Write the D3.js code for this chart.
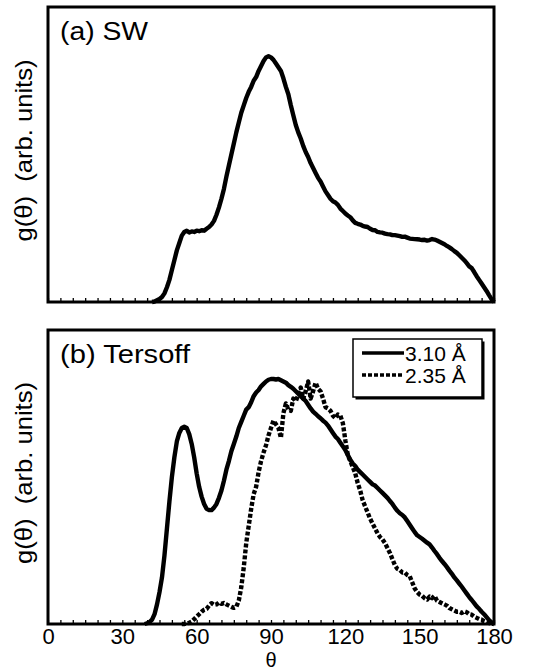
<!DOCTYPE html>
<html>
<head>
<meta charset="utf-8">
<script src="https://cdn.jsdelivr.net/npm/d3@7"></script>
<style>
  html, body { margin: 0; padding: 0; background: #fff; }
  svg { display: block; font-family: "Liberation Sans", Arial, Helvetica, sans-serif; }
  text { white-space: pre; }
</style>
</head>
<body>
<svg id="chart" width="546" height="670"></svg>
<script>
// Bond-angle distribution g(theta), [theta (deg), g (arb. units)]
const swData = [
  [42,0],[43,0.002],[44,0.007],[45,0.012],[46,0.02],[47,0.035],[48,0.06],[49,0.09],[50,0.13],
  [51,0.17],[52,0.21],[53,0.24],[54,0.27],[55,0.285],[56,0.29],[57,0.283],[58,0.287],[59,0.285],
  [60,0.29],[61,0.288],[62,0.292],[63,0.29],[64,0.298],[65,0.305],[66,0.315],[67,0.33],[68,0.355],
  [69,0.385],[70,0.42],[71,0.46],[72,0.51],[73,0.555],[74,0.6],[75,0.645],[76,0.69],[77,0.73],
  [78,0.77],[79,0.8],[80,0.83],[81,0.855],[82,0.875],[83,0.9],[84,0.915],[85,0.94],[86,0.96],
  [87,0.98],[88,0.995],[89,1.0],[90,0.995],[91,0.985],[92,0.97],[93,0.955],[94,0.94],[95,0.91],
  [96,0.875],[97,0.845],[98,0.8],[99,0.76],[100,0.72],[101,0.69],[102,0.665],[103,0.635],[104,0.61],
  [105,0.59],[106,0.565],[107,0.545],[108,0.525],[109,0.505],[110,0.49],[111,0.47],[112,0.45],
  [113,0.435],[114,0.42],[115,0.41],[116,0.405],[117,0.395],[118,0.38],[119,0.37],[120,0.36],
  [121,0.352],[122,0.345],[123,0.332],[124,0.322],[125,0.318],[126,0.315],[127,0.31],[128,0.307],
  [129,0.305],[130,0.298],[131,0.293],[132,0.292],[133,0.285],[134,0.283],[135,0.282],[136,0.278],
  [137,0.276],[138,0.275],[139,0.272],[140,0.272],[141,0.27],[142,0.268],[143,0.265],[144,0.266],
  [145,0.262],[146,0.258],[147,0.257],[148,0.256],[149,0.255],[150,0.254],[151,0.252],[152,0.253],
  [153,0.25],[154,0.252],[155,0.256],[156,0.254],[157,0.25],[158,0.245],[159,0.24],[160,0.235],
  [161,0.228],[162,0.222],[163,0.215],[164,0.207],[165,0.2],[166,0.19],[167,0.18],[168,0.17],
  [169,0.158],[170,0.145],[171,0.138],[172,0.122],[173,0.105],[174,0.09],[175,0.075],[176,0.06],
  [177,0.045],[178,0.028],[179,0.012],[180,0]
];

const tersoff310 = [
  [39,0],[40,0.003],[41,0.008],[42,0.018],[43,0.04],[44,0.08],[45,0.13],[46,0.19],[47,0.28],
  [48,0.39],[49,0.5],[50,0.6],[51,0.68],[52,0.745],[53,0.78],[54,0.8],[55,0.805],[56,0.8],
  [57,0.775],[58,0.735],[59,0.68],[60,0.615],[61,0.56],[62,0.52],[63,0.49],[64,0.47],[65,0.465],
  [66,0.465],[67,0.475],[68,0.49],[69,0.515],[70,0.545],[71,0.585],[72,0.63],[73,0.665],[74,0.705],
  [75,0.735],[76,0.765],[77,0.8],[78,0.825],[79,0.85],[80,0.875],[81,0.885],[82,0.905],[83,0.93],
  [84,0.945],[85,0.955],[86,0.97],[87,0.98],[88,0.99],[89,0.997],[90,1.0],[91,1.0],[92,0.998],
  [93,1.0],[94,0.995],[95,0.99],[96,0.985],[97,0.975],[98,0.968],[99,0.96],[100,0.95],[101,0.94],
  [102,0.93],[103,0.92],[104,0.91],[105,0.895],[106,0.88],[107,0.867],[108,0.858],[109,0.848],
  [110,0.84],[111,0.83],[112,0.822],[113,0.81],[114,0.795],[115,0.78],[116,0.765],[117,0.755],
  [118,0.74],[119,0.725],[120,0.71],[121,0.69],[122,0.67],[123,0.655],[124,0.645],[125,0.63],
  [126,0.62],[127,0.61],[128,0.6],[129,0.59],[130,0.58],[131,0.57],[132,0.565],[133,0.555],
  [134,0.545],[135,0.535],[136,0.525],[137,0.515],[138,0.502],[139,0.49],[140,0.475],[141,0.462],
  [142,0.452],[143,0.445],[144,0.435],[145,0.42],[146,0.405],[147,0.39],[148,0.375],[149,0.362],
  [150,0.355],[151,0.348],[152,0.34],[153,0.332],[154,0.325],[155,0.312],[156,0.298],[157,0.285],
  [158,0.27],[159,0.257],[160,0.245],[161,0.232],[162,0.218],[163,0.205],[164,0.19],[165,0.178],
  [166,0.165],[167,0.152],[168,0.138],[169,0.124],[170,0.11],[171,0.098],[172,0.085],[173,0.072],
  [174,0.062],[175,0.05],[176,0.04],[177,0.028],[178,0.016],[179,0.007],[180,0]
];

const tersoff235 = [
  [54,0],[55,0],[56,0.002],[57,0.005],[58,0.01],[59,0.02],[60,0.03],[61,0.04],[62,0.05],
  [63,0.058],[64,0.062],[65,0.075],[66,0.085],[67,0.078],[68,0.08],[69,0.088],[70,0.082],
  [71,0.086],[72,0.08],[73,0.075],[74,0.07],[75,0.066],[76,0.07],[77,0.095],[78,0.15],[79,0.23],
  [80,0.33],[81,0.4],[82,0.47],[83,0.53],[84,0.56],[85,0.62],[86,0.665],[87,0.7],[88,0.73],
  [89,0.77],[90,0.8],[91,0.83],[92,0.815],[93,0.8],[94,0.76],[95,0.86],[96,0.9],[97,0.875],
  [98,0.87],[99,0.92],[100,0.91],[101,0.935],[102,0.965],[103,0.92],[104,0.95],[105,0.99],
  [106,0.92],[107,0.95],[108,0.985],[109,0.96],[110,0.95],[111,0.92],[112,0.885],[113,0.88],
  [114,0.87],[115,0.85],[116,0.84],[117,0.855],[118,0.85],[119,0.82],[120,0.75],[121,0.69],
  [122,0.665],[123,0.64],[124,0.615],[125,0.575],[126,0.545],[127,0.505],[128,0.48],[129,0.455],
  [130,0.43],[131,0.41],[132,0.39],[133,0.37],[134,0.355],[135,0.345],[136,0.33],[137,0.31],
  [138,0.29],[139,0.265],[140,0.24],[141,0.225],[142,0.22],[143,0.21],[144,0.21],[145,0.2],
  [146,0.195],[147,0.17],[148,0.145],[149,0.13],[150,0.12],[151,0.115],[152,0.105],[153,0.1],
  [154,0.112],[155,0.105],[156,0.115],[157,0.095],[158,0.09],[159,0.085],[160,0.08],[161,0.075],
  [162,0.065],[163,0.06],[164,0.055],[165,0.05],[166,0.05],[167,0.045],[168,0.052],[169,0.048],
  [170,0.04],[171,0.038],[172,0.03],[173,0.025],[174,0.02],[175,0.018],[176,0.012],[177,0.008],
  [178,0.004],[179,0.002],[180,0]
];

const xTickLabels = [0, 30, 60, 90, 120, 150, 180];
const panelTitles = ["(a) SW", "(b) Tersoff"];
const legendLabels = ["3.10 \u00C5", "2.35 \u00C5"];
const yLabel = "g(\u03B8)  (arb. units)";
const xLabel = "\u03B8";

const svg = d3.select("#chart");
const left = 48, right = 494;
const panels = [
  { top: 7, bottom: 302, titleLen: 88 },
  { top: 330, bottom: 624, titleLen: 130 }
];

const x = d3.scaleLinear().domain([0, 180]).range([left, right]);
const minorTicks = d3.range(0, 181, 5);

const line = (ys) => d3.line()
  .x(d => x(d[0]))
  .y(d => ys(d[1]))
  .curve(d3.curveLinear);

function drawPanel(p, idx, series) {
  const y = d3.scaleLinear().domain([0, 1.2]).range([p.bottom, p.top]);
  const g = svg.append("g");

  // bottom axis with inward minor ticks every 5 degrees
  const axis = d3.axisBottom(x)
    .tickValues(minorTicks)
    .tickSizeInner(-4)
    .tickSizeOuter(0)
    .tickPadding(4.5)
    .tickFormat(d => (idx === 1 && xTickLabels.includes(d)) ? d3.format("d")(d) : "");
  const ax = g.append("g").attr("transform", `translate(0,${p.bottom})`).call(axis);
  ax.select(".domain").remove();
  ax.selectAll(".tick line").attr("stroke", "#000").attr("stroke-width", 1.3);
  ax.selectAll(".tick text")
    .attr("font-family", "'Liberation Sans', Arial, sans-serif")
    .attr("font-size", 22)
    .attr("fill", "#000");

  // data curves
  series.forEach(s => {
    g.append("path")
      .datum(s.data)
      .attr("fill", "none")
      .attr("stroke", "#000")
      .attr("stroke-width", 4.4)
      .attr("stroke-linejoin", "round")
      .attr("stroke-dasharray", s.dash || null)
      .attr("d", line(y));
  });

  // frame
  g.append("rect")
    .attr("x", left).attr("y", p.top)
    .attr("width", right - left).attr("height", p.bottom - p.top)
    .attr("fill", "none").attr("stroke", "#000").attr("stroke-width", 3);

  // panel title
  g.append("text")
    .attr("x", 60).attr("y", p.top + 33)
    .attr("font-size", 25)
    .attr("textLength", p.titleLen)
    .attr("lengthAdjust", "spacingAndGlyphs")
    .text(panelTitles[idx]);

  // y label
  const cy = (p.top + p.bottom) / 2 - 4;
  g.append("text")
    .attr("transform", `translate(32,${cy}) rotate(-90)`)
    .attr("text-anchor", "middle")
    .attr("font-size", 24)
    .attr("textLength", 182)
    .attr("lengthAdjust", "spacingAndGlyphs")
    .text(yLabel);

  return y;
}

drawPanel(panels[0], 0, [{ data: swData }]);
drawPanel(panels[1], 1, [
  { data: tersoff310 },
  { data: tersoff235, dash: "4,2" }
]);

// x label
svg.append("text")
  .attr("x", x(90)).attr("y", 667)
  .attr("text-anchor", "middle")
  .attr("font-size", 20)
  .text(xLabel);

// legend
const lg = svg.append("g");
const lx = 353, ly = 339, lw = 129, lh = 58;
lg.append("rect").attr("x", lx + 2.5).attr("y", ly + 2.5).attr("width", lw).attr("height", lh).attr("fill", "#000");
lg.append("rect").attr("x", lx).attr("y", ly).attr("width", lw).attr("height", lh)
  .attr("fill", "#fff").attr("stroke", "#000").attr("stroke-width", 1.5);
const legendDash = [null, "4,2"];
legendLabels.forEach((lab, i) => {
  const yy = ly + 14 + i * 22;
  lg.append("line")
    .attr("x1", lx + 9).attr("x2", lx + 51)
    .attr("y1", yy).attr("y2", yy)
    .attr("stroke", "#000").attr("stroke-width", 3.5)
    .attr("stroke-dasharray", legendDash[i]);
  lg.append("text")
    .attr("x", lx + 52).attr("y", yy + 8)
    .attr("font-size", 21)
    .text(lab);
});
</script>
</body>
</html>
